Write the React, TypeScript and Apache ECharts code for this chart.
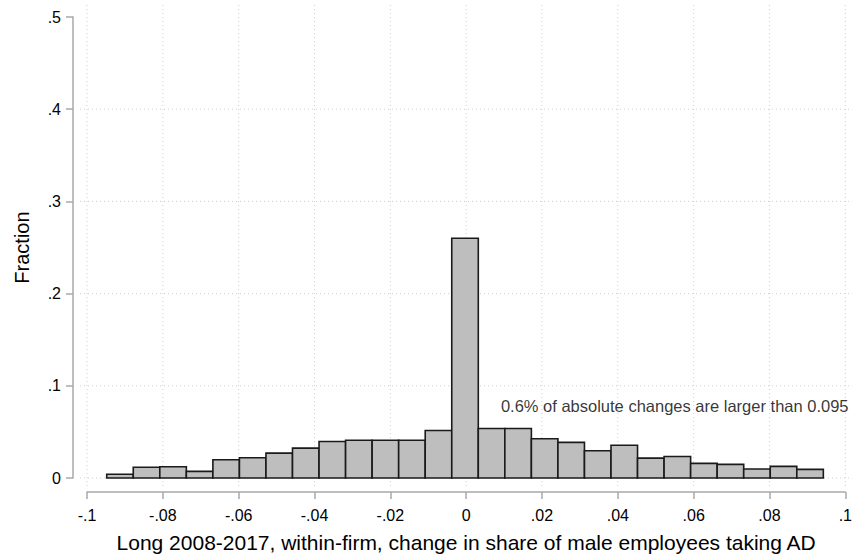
import React, { useEffect, useRef } from "react";
import * as echarts from "echarts";

// Histogram bins: left edge of the first bin, common bin width, and the
// fraction of firms falling in each bin.
const binStart = -0.0948;
const binWidth = 0.007;
const fractions = [
  0.004, 0.0116, 0.0122, 0.0072, 0.0198, 0.0219, 0.027, 0.0324, 0.0396,
  0.041, 0.041, 0.041, 0.0515, 0.26, 0.0537, 0.0537, 0.0425, 0.0386,
  0.0295, 0.0356, 0.0216, 0.0234, 0.0159, 0.0148, 0.0097, 0.0126, 0.0094,
];

// Axis ticks
const xTicks = [-0.1, -0.08, -0.06, -0.04, -0.02, 0, 0.02, 0.04, 0.06, 0.08, 0.1];
const yTicks = [0, 0.1, 0.2, 0.3, 0.4, 0.5];
const yGridTicks = [0, 0.1, 0.2, 0.3, 0.4];

// Note placed inside the plot
const noteText = "0.6% of absolute changes are larger than 0.095";
const notePos = [0.055, 0.078];

const xTitle = "Long 2008-2017, within-firm, change in share of male employees taking AD";
const yTitle = "Fraction";

const FONT = "'Liberation Sans', Arial, Helvetica, sans-serif";

// Stata-like number format: ".08", "-.02", "0"
const fmt = (v: number) => {
  const r = parseFloat(v.toFixed(3));
  if (r === 0) return "0";
  return String(r).replace(/^(-?)0\./, "$1.");
};

const App: React.FC = () => {
  const ref = useRef<HTMLDivElement>(null);

  useEffect(() => {
    if (!ref.current) return;
    const chart = echarts.init(ref.current, null, { renderer: "svg" });

    const bins = fractions.map((f, i) => [
      binStart + i * binWidth,
      binStart + (i + 1) * binWidth,
      f,
    ]);

    const axisColor = "#a9a9a9";
    const gridColor = "#cfcfcf";

    chart.setOption({
      animation: false,
      backgroundColor: "#ffffff",
      grid: { left: 87, right: 6.7, top: 17, bottom: 79, containLabel: false },
      xAxis: {
        type: "value",
        min: -0.1,
        max: 0.1,
        interval: 0.02,
        offset: 14,
        name: xTitle,
        nameLocation: "middle",
        nameGap: 40,
        nameTextStyle: { fontFamily: FONT, fontSize: 21, color: "#000" },
        axisLine: { show: true, onZero: false, lineStyle: { color: axisColor, width: 1.5 } },
        axisTick: { show: true, inside: false, length: 7, lineStyle: { color: axisColor, width: 1.5 } },
        axisLabel: {
          formatter: (v: number) => fmt(v),
          fontFamily: FONT,
          fontSize: 16,
          color: "#000",
          margin: 15,
        },
        splitLine: { show: false },
      },
      yAxis: {
        type: "value",
        min: 0,
        max: 0.5,
        interval: 0.1,
        offset: 14,
        name: yTitle,
        nameLocation: "middle",
        nameGap: 41,
        nameTextStyle: { fontFamily: FONT, fontSize: 20, color: "#000" },
        axisLine: { show: true, onZero: false, lineStyle: { color: axisColor, width: 1.5 } },
        axisTick: { show: true, inside: false, length: 7, lineStyle: { color: axisColor, width: 1.5 } },
        axisLabel: {
          formatter: (v: number) => fmt(v),
          fontFamily: FONT,
          fontSize: 16,
          color: "#000",
          margin: 12,
        },
        splitLine: { show: false },
      },
      series: [
        {
          // vertical dotted grid lines at the x ticks, running past the plot edges
          type: "custom",
          silent: true,
          z: 1,
          clip: false,
          data: xTicks.map((t) => [t]),
          renderItem: (params: any, api: any) => {
            const x = api.value(0);
            const top = api.coord([x, yTicks[yTicks.length - 1]]);
            const bot = api.coord([x, yTicks[0]]);
            return {
              type: "line",
              shape: { x1: top[0], y1: top[1] - 12, x2: bot[0], y2: bot[1] + 8 },
              style: { stroke: gridColor, lineWidth: 1, lineDash: [1, 3] },
            };
          },
        },
        {
          // horizontal dotted grid lines
          type: "custom",
          silent: true,
          z: 1,
          clip: false,
          data: yGridTicks.map((t) => [t]),
          renderItem: (params: any, api: any) => {
            const y = api.value(0);
            const l = api.coord([xTicks[0], y]);
            const r = api.coord([xTicks[xTicks.length - 1], y]);
            return {
              type: "line",
              shape: { x1: l[0] - 7, y1: l[1], x2: r[0] + 7, y2: r[1] },
              style: { stroke: gridColor, lineWidth: 1, lineDash: [1, 3] },
            };
          },
        },
        {
          // histogram bars
          type: "custom",
          z: 2,
          data: bins,
          encode: { x: [0, 1], y: 2 },
          renderItem: (params: any, api: any) => {
            const p0 = api.coord([api.value(0), api.value(2)]);
            const p1 = api.coord([api.value(1), 0]);
            return {
              type: "rect",
              shape: { x: p0[0], y: p0[1], width: p1[0] - p0[0], height: p1[1] - p0[1] },
              style: { fill: "#bebebe", stroke: "#1a1a1a", lineWidth: 1.6 },
            };
          },
        },
        {
          type: "scatter",
          z: 3,
          silent: true,
          symbolSize: 0,
          data: [notePos],
          label: {
            show: true,
            position: "inside",
            formatter: noteText,
            fontFamily: FONT,
            fontSize: 16.5,
            color: "#000",
          },
        },
      ],
    });

    return () => chart.dispose();
  }, []);

  return <div ref={ref} style={{ width: 855, height: 558, position: "absolute", left: 0, top: 0 }} />;
};

export default App;
